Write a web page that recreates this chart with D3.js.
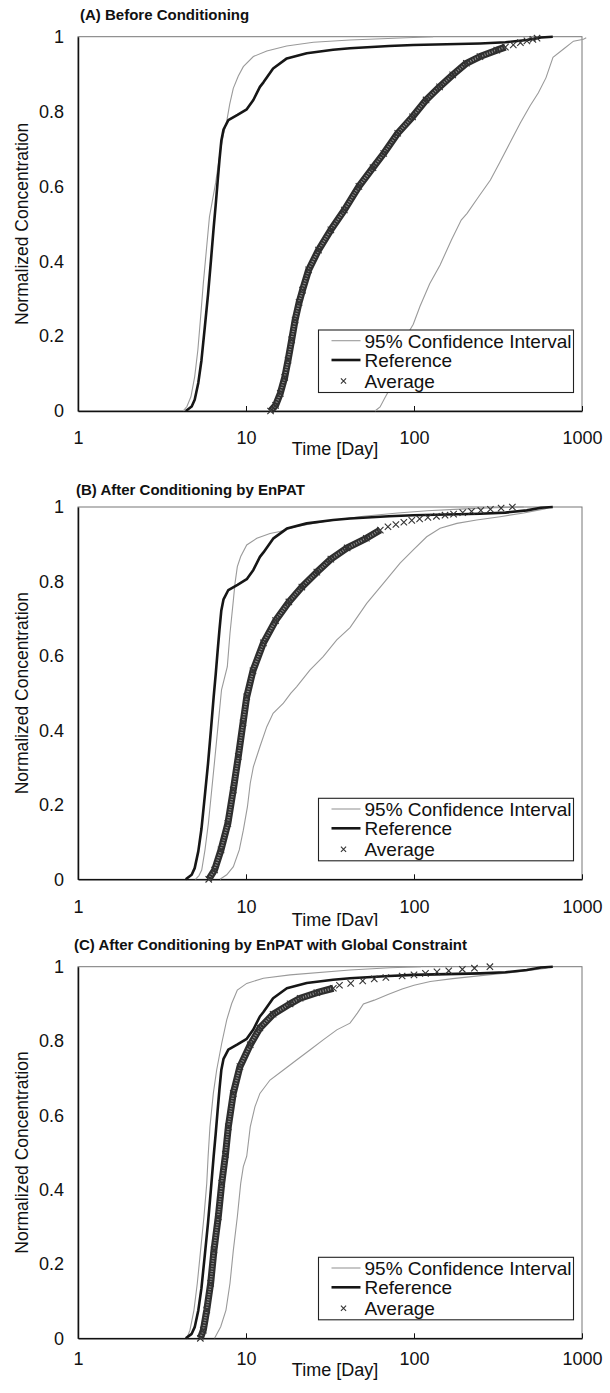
<!DOCTYPE html>
<html>
<head>
<meta charset="utf-8">
<script src="https://cdn.jsdelivr.net/npm/d3@7"></script>
<style>
  body { margin: 0; background: #fff; }
  svg { display: block; }
  text { font-family: Arial, "Liberation Sans", sans-serif; fill: #111; }
</style>
</head>
<body>
<div id="chart"></div>
<script>
// Breakthrough curves: normalized concentration vs time (log), three panels

const X_TICKS = [1, 10, 100, 1000];
const Y_TICKS = [0, 0.2, 0.4, 0.6, 0.8, 1];
const TITLES = [
  "(A) Before Conditioning",
  "(B) After Conditioning by EnPAT",
  "(C) After Conditioning by EnPAT with Global Constraint"
];
const LEGEND_LABELS = ["95% Confidence Interval", "Reference", "Average"];
const X_LABEL = "Time [Day]";
const Y_LABEL = "Normalized Concentration";

// [time (day), concentration]
const REFERENCE = [[4.38,0],[4.75,0.012],[4.95,0.03],[5.2,0.075],[5.43,0.135],[5.68,0.222],[5.94,0.31],
  [6.18,0.4],[6.42,0.49],[6.6,0.55],[6.77,0.61],[6.95,0.67],[7.13,0.722],[7.35,0.752],[7.85,0.777],
  [8.9,0.791],[10.1,0.806],[11.06,0.831],[12.1,0.866],[12.7,0.878],[14.5,0.915],[17.5,0.942],[23,0.956],
  [33,0.965],[41.6,0.969],[71,0.975],[99,0.978],[247,0.982],[350,0.985],[469,0.991],[570,0.998],[670,1]];

// (A)
const A_LOWER = [[4.22,0],[4.45,0.012],[4.7,0.038],[4.95,0.092],[5.17,0.163],[5.37,0.252],[5.57,0.341],
  [5.81,0.43],[6.06,0.519],[6.3,0.56],[6.6,0.61],[6.95,0.68],[7.35,0.74],[7.7,0.777],[8.0,0.82],[8.4,0.862],
  [9.0,0.895],[9.64,0.92],[11.06,0.947],[13.3,0.962],[17.46,0.975],[25.2,0.985],[41.6,0.991],[99,0.998],[130,1]];
const A_UPPER = [[58.6,0],[62.8,0.011],[67,0.035],[72,0.06],[78,0.11],[85,0.16],[90,0.2],[99,0.232],
  [108.6,0.28],[124,0.34],[143,0.39],[167,0.457],[191,0.51],[207,0.528],[243,0.573],[285,0.617],[325,0.665],
  [380,0.724],[430,0.77],[490,0.815],[550,0.85],[610,0.89],[672,0.945],[787,0.969],[890,0.988],[1020,0.993],[1060,0.997]];
const A_AVG = [[14.0,0],[15.0,0.015],[16.0,0.047],[17.0,0.09],[17.8,0.136],[18.7,0.19],[19.6,0.243],[20.7,0.29],
  [21.7,0.323],[23.6,0.377],[27,0.43],[32,0.484],[38.5,0.537],[47,0.6],[57,0.65],[66,0.688],[80,0.742],
  [98,0.786],[118,0.831],[142,0.866],[170,0.898],[205,0.929],[247,0.947],[311,0.964],[350,0.972]];
const A_AVG_TAIL = [[390,0.978],[430,0.984],[470,0.989],[510,0.993],[540,0.996]];

// (B)
const B_LOWER = [[5.0,0],[5.25,0.01],[5.45,0.025],[5.7,0.079],[5.97,0.15],[6.25,0.24],[6.54,0.329],[6.84,0.419],
  [7.15,0.509],[7.74,0.571],[8.03,0.661],[8.41,0.75],[8.6,0.795],[8.88,0.84],[9.3,0.867],[10.1,0.898],
  [11.6,0.916],[13.9,0.929],[15.9,0.934],[20,0.948],[30,0.962],[50,0.975],[80,0.984],[120,0.99],[200,0.995],
  [300,0.998],[450,1]];
const B_UPPER = [[7.0,0],[7.68,0.012],[8.41,0.034],[9.12,0.079],[9.64,0.132],[10.2,0.195],[10.6,0.258],
  [11.06,0.302],[12.1,0.356],[13.3,0.41],[14.5,0.446],[16.7,0.473],[18.5,0.5],[20,0.517],[24,0.562],
  [28.8,0.598],[34.7,0.643],[41.6,0.676],[52.3,0.741],[65.7,0.795],[82.6,0.849],[99,0.885],[119,0.92],
  [143,0.943],[180,0.956],[236,0.965],[325,0.974],[450,0.984],[600,0.995],[650,1]];
const B_AVG = [[6.0,0],[6.5,0.025],[7.1,0.079],[7.8,0.15],[8.4,0.24],[9.0,0.33],[9.6,0.42],[10.1,0.49],
  [11.0,0.56],[12.7,0.635],[15,0.695],[18,0.745],[21.5,0.785],[26.4,0.825],[32,0.86],[40,0.89],[52,0.916],[63,0.938]];
const B_AVG_TAIL = [[70,0.947],[78,0.953],[87,0.959],[97,0.964],[108,0.968],[121,0.972],[136,0.975],
  [153,0.978],[172,0.981],[195,0.985],[220,0.988],[250,0.991],[285,0.994],[330,0.997],[385,1]];

// (C)
const C_LOWER = [[4.44,0],[4.64,0.022],[4.9,0.076],[5.13,0.148],[5.37,0.238],[5.62,0.327],[5.84,0.417],
  [5.95,0.49],[6.1,0.569],[6.39,0.659],[6.69,0.722],[7.17,0.794],[7.68,0.857],[8.22,0.901],[8.88,0.937],
  [10.1,0.955],[12.7,0.969],[18.3,0.978],[41.6,0.991],[72,0.997],[110,1]];
const C_UPPER = [[6.5,0],[7.07,0.031],[7.6,0.076],[8.03,0.148],[8.41,0.238],[8.88,0.327],[9.3,0.417],
  [9.64,0.462],[10.1,0.49],[10.6,0.569],[11.3,0.623],[12.1,0.659],[13.9,0.695],[16.7,0.722],[20,0.749],
  [24,0.776],[28.8,0.803],[34.7,0.83],[41.6,0.848],[46,0.875],[50,0.9],[58,0.91],[70,0.925],[85,0.94],
  [100,0.95],[125,0.96],[170,0.968],[250,0.976],[400,0.985],[600,0.995],[650,1]];
const C_AVG = [[5.35,0],[5.57,0.022],[5.84,0.076],[6.16,0.148],[6.45,0.238],[6.84,0.327],[7.17,0.417],
  [7.55,0.495],[7.85,0.569],[8.4,0.659],[9.2,0.731],[10.6,0.79],[12.1,0.835],[14.5,0.872],[18.3,0.9],
  [21,0.915],[26.4,0.93],[33.1,0.942]];
const C_AVG_TAIL = [[36,0.95],[42,0.955],[49.5,0.962],[58,0.967],[68,0.971],[85,0.975],[100,0.978],
  [117,0.982],[137,0.986],[161,0.989],[194,0.993],[229,0.996],[283,1]];

/* ── Layout ── */
const W = 610, H = 1393;
const X0 = 78, X1 = 582;

const panels = [
  { title: TITLES[0], titleX: 80, titleY: 20, top: 36.7, bottom: 411, tickPad: 20, xlabY: 455,
    lower: A_LOWER, upper: A_UPPER, avg: A_AVG, tail: A_AVG_TAIL },
  { title: TITLES[1], titleX: 76, titleY: 495, top: 507, bottom: 879.3, tickPad: 21, xlabY: 926, clip: 926,
    lower: B_LOWER, upper: B_UPPER, avg: B_AVG, tail: B_AVG_TAIL },
  { title: TITLES[2], titleX: 74, titleY: 950, top: 966.7, bottom: 1338.3, tickPad: 14, xlabY: 1376,
    lower: C_LOWER, upper: C_UPPER, avg: C_AVG, tail: C_AVG_TAIL }
];

const svg = d3.select("#chart").append("svg").attr("width", W).attr("height", H);

svg.append("defs").append("clipPath").attr("id", "clipB")
  .append("rect").attr("x", 0).attr("y", 0).attr("width", W).attr("height", 926);

const crossPath = "M-3.2,-3.2L3.2,3.2M-3.2,3.2L3.2,-3.2";

panels.forEach((p) => {
  const x = d3.scaleLog().domain([1, 1000]).range([X0, X1]);
  const y = d3.scaleLinear().domain([0, 1]).range([p.bottom, p.top]);
  const g = svg.append("g");
  const line = d3.line().x(d => x(d[0])).y(d => y(d[1]));

  // title
  g.append("text").attr("x", p.titleX).attr("y", p.titleY)
    .attr("font-size", 15).attr("font-weight", "bold").text(p.title);

  // plot frame
  g.append("rect").attr("x", X0).attr("y", p.top)
    .attr("width", X1 - X0).attr("height", p.bottom - p.top)
    .attr("fill", "none").attr("stroke", "#777").attr("stroke-width", 1);

  // x axis
  g.append("g").attr("transform", `translate(0,${p.bottom})`)
    .call(d3.axisBottom(x).tickValues(X_TICKS).tickFormat(d3.format("d"))
      .tickSizeInner(-5).tickSizeOuter(0).tickPadding(p.tickPad))
    .call(ax => {
      ax.select(".domain").attr("stroke", "#111").attr("stroke-width", 1.5);
      ax.selectAll("line").attr("stroke", "#111");
      ax.selectAll("text").attr("font-size", 18).attr("fill", "#111")
        .attr("font-family", "Arial, 'Liberation Sans', sans-serif");
    });

  // y axis
  g.append("g").attr("transform", `translate(${X0},0)`)
    .call(d3.axisLeft(y).tickValues(Y_TICKS).tickFormat(d => String(d))
      .tickSize(0).tickPadding(14))
    .call(ax => {
      ax.select(".domain").attr("stroke", "#111").attr("stroke-width", 1.5);
      ax.selectAll("text").attr("font-size", 18).attr("fill", "#111")
        .attr("font-family", "Arial, 'Liberation Sans', sans-serif");
    });

  // axis labels
  const xl = g.append("text").attr("x", 335).attr("y", p.xlabY)
    .attr("text-anchor", "middle").attr("font-size", 18).text(X_LABEL);
  if (p.clip) xl.attr("clip-path", "url(#clipB)");

  g.append("text")
    .attr("transform", `translate(28,${(p.top + p.bottom) / 2}) rotate(-90)`)
    .attr("text-anchor", "middle").attr("font-size", 17.5).text(Y_LABEL);

  // confidence interval
  [p.lower, p.upper].forEach(s => {
    g.append("path").datum(s).attr("d", line)
      .attr("fill", "none").attr("stroke", "#9a9a9a").attr("stroke-width", 1.1);
  });

  // reference
  g.append("path").datum(REFERENCE).attr("d", line)
    .attr("fill", "none").attr("stroke", "#161616").attr("stroke-width", 2.6)
    .attr("stroke-linejoin", "round");

  // average: dense markers form a band, sparse tail as single crosses
  g.append("path").datum(p.avg).attr("d", line)
    .attr("fill", "none").attr("stroke", "#2e2e2e").attr("stroke-width", 7)
    .attr("stroke-linejoin", "round");
  g.append("path").datum(p.avg).attr("d", line)
    .attr("fill", "none").attr("stroke", "#b0b0b0").attr("stroke-width", 2.6)
    .attr("stroke-dasharray", "1 1.6").attr("opacity", 0.75);
  g.selectAll(null).data(p.avg.concat(p.tail)).join("path")
    .attr("d", crossPath)
    .attr("transform", d => `translate(${x(d[0])},${y(d[1])})`)
    .attr("fill", "none").attr("stroke", "#333").attr("stroke-width", 1.1);

  // legend
  const lx = 318.5, ly = p.bottom - 81;
  const lg = g.append("g").attr("transform", `translate(${lx},${ly})`);
  lg.append("rect").attr("width", 255).attr("height", 62.5)
    .attr("fill", "#fff").attr("stroke", "#222").attr("stroke-width", 1.1);
  const rows = [10.7, 30, 51];
  lg.append("line").attr("x1", 13).attr("x2", 42).attr("y1", rows[0]).attr("y2", rows[0])
    .attr("stroke", "#9a9a9a").attr("stroke-width", 1.1);
  lg.append("line").attr("x1", 13).attr("x2", 42).attr("y1", rows[1]).attr("y2", rows[1])
    .attr("stroke", "#161616").attr("stroke-width", 2.6);
  lg.append("path").attr("d", "M-2.6,-2.6L2.6,2.6M-2.6,2.6L2.6,-2.6").attr("transform", `translate(25,${rows[2]})`)
    .attr("fill", "none").attr("stroke", "#333").attr("stroke-width", 1.1);
  LEGEND_LABELS.forEach((t, i) => {
    lg.append("text").attr("x", 46).attr("y", rows[i]).attr("dy", "0.36em")
      .attr("font-size", 19).text(t);
  });
});
</script>
</body>
</html>
